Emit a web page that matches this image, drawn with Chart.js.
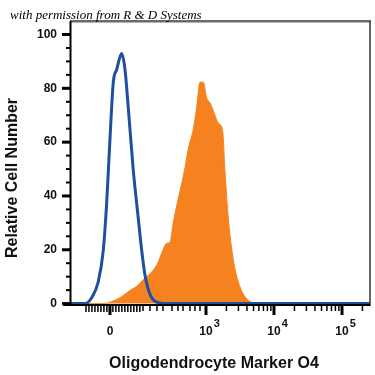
<!DOCTYPE html>
<html>
<head>
<meta charset="utf-8">
<script src="https://cdn.jsdelivr.net/npm/chart.js@4.4.1/dist/chart.umd.min.js"></script>
<style>
  html, body { margin: 0; padding: 0; background: #fff; }
</style>
</head>
<body>
<canvas id="histChart" width="375" height="375"></canvas>
<script>
// x values are positions on the display (logicle) axis: 10^3 -> 3, 10^4 -> 4 ...
var controlX = [1.015, 1.221, 1.319, 1.416, 1.490, 1.540, 1.588, 1.637, 1.687, 1.760, 1.809, 1.857, 1.931, 2.004, 2.054, 2.103, 2.176, 2.275, 2.422, 5.412];
var controlY = [0, 0, 2.2, 8.1, 19.9, 37.6, 61.1, 82.3, 87.0, 92.9, 87.0, 72.9, 49.5, 31.8, 19.9, 10.6, 3.5, 0.5, 0, 0];

var stainedX = [1.015, 1.485, 1.735, 1.907, 1.981, 2.074, 2.201, 2.294, 2.368, 2.422, 2.471, 2.515, 2.569, 2.643, 2.691, 2.740, 2.813, 2.863, 2.912, 2.960, 3.010, 3.059, 3.107, 3.181, 3.246, 3.279, 3.328, 3.401, 3.475, 3.549, 3.672, 3.794, 5.412];
var stainedY = [0, 0, 2.2, 5.3, 6.4, 8.8, 11.7, 15.2, 20.0, 22.4, 22.8, 29.5, 36.4, 44.6, 50.5, 57.6, 64.7, 72.9, 82.3, 82.3, 76.4, 74.6, 71.7, 67.1, 64.0, 49.5, 31.8, 16.4, 8.1, 3.5, 0.5, 0, 0];

var xTickPos = [1.588, 3, 4, 5];
var xTickBase = ['0', '10', '10', '10'];
var xTickExp = ['', '3', '4', '5'];
var yTickLabels = [0, 20, 40, 60, 80, 100];

var blue = '#1f4f9d';
var orange = '#f5821f';

function pairs(xs, ys) {
    return xs.map(function (x, i) { return { x: x, y: ys[i] }; });
}

// minor tick positions for the x axis
var xMinor = [];
for (var v = 1.235; v < 2.03; v += 0.044) xMinor.push(v);
[2.074, 2.176, 2.279, 2.368, 2.500, 2.588, 2.662, 2.765, 2.838, 2.912].forEach(function (p) { xMinor.push(p); });
[3, 4, 5].forEach(function (k) {
    for (var m = 2; m <= 9; m++) {
        var p = k + Math.log10(m);
        if (p < 5.41) xMinor.push(p);
    }
});

var decorations = {
    id: 'decorations',
    afterDraw: function (chart) {
        var ctx = chart.ctx;
        var area = chart.chartArea;
        var sx = chart.scales.x, sy = chart.scales.y;
        ctx.save();

        // frame
        ctx.strokeStyle = '#6b6b6b';
        ctx.lineWidth = 2.5;
        ctx.beginPath();
        ctx.moveTo(area.left - 1, area.top);
        ctx.lineTo(area.right + 1, area.top);
        ctx.stroke();
        ctx.strokeStyle = '#333';
        ctx.lineWidth = 1.5;
        ctx.beginPath();
        ctx.moveTo(area.right, area.top);
        ctx.lineTo(area.right, area.bottom);
        ctx.stroke();

        // axis lines
        ctx.strokeStyle = '#000';
        ctx.lineWidth = 2;
        ctx.beginPath();
        ctx.moveTo(area.left - 0.5, area.top);
        ctx.lineTo(area.left - 0.5, area.bottom);
        ctx.moveTo(area.left - 8, area.bottom - 1);
        ctx.lineTo(area.right, area.bottom - 1);
        ctx.stroke();

        // y ticks
        for (var t = 0; t <= 100; t += 5) {
            var py = sy.getPixelForValue(t);
            var major = t % 20 === 0;
            ctx.lineWidth = major ? 3 : 2;
            ctx.beginPath();
            ctx.moveTo(area.left - (major ? 9 : 5), py);
            ctx.lineTo(area.left, py);
            ctx.stroke();
        }

        // x ticks
        ctx.lineWidth = 1.5;
        xMinor.forEach(function (p) {
            var px = sx.getPixelForValue(p);
            ctx.beginPath();
            ctx.moveTo(px, area.bottom);
            ctx.lineTo(px, area.bottom + (p < 2.05 ? 6 : 5));
            ctx.stroke();
        });
        ctx.lineWidth = 3;
        xTickPos.forEach(function (p) {
            var px = sx.getPixelForValue(p);
            ctx.beginPath();
            ctx.moveTo(px, area.bottom);
            ctx.lineTo(px, area.bottom + 9);
            ctx.stroke();
        });

        // x tick labels with superscripts
        ctx.fillStyle = '#111';
        ctx.textBaseline = 'middle';
        xTickPos.forEach(function (p, i) {
            var px = sx.getPixelForValue(p);
            ctx.font = 'bold 12px "Liberation Sans", Arial, sans-serif';
            ctx.textAlign = 'center';
            ctx.fillText(xTickBase[i], px, 332);
            if (xTickExp[i]) {
                var w = ctx.measureText(xTickBase[i]).width;
                ctx.font = 'bold 11px "Liberation Sans", Arial, sans-serif';
                ctx.textAlign = 'left';
                ctx.fillText(xTickExp[i], px + w / 2 + 1, 324);
            }
        });

        // axis titles
        ctx.font = 'bold 16px "Liberation Sans", Arial, sans-serif';
        ctx.textAlign = 'center';
        ctx.fillText('Oligodendrocyte Marker O4', 214, 364);
        ctx.save();
        ctx.translate(13, 178);
        ctx.rotate(-Math.PI / 2);
        ctx.fillText('Relative Cell Number', 0, 0);
        ctx.restore();

        // watermark
        ctx.font = 'italic 13px "Liberation Serif", serif';
        ctx.textAlign = 'left';
        ctx.textBaseline = 'alphabetic';
        ctx.fillStyle = '#000';
        ctx.fillText('with permission from R & D Systems', 10, 19);

        ctx.restore();
    }
};

var ctx = document.getElementById('histChart').getContext('2d');
var histChart = new Chart(ctx, {
    type: 'line',
    data: {
        datasets: [{
            label: 'Oligodendrocyte Marker O4',
            data: pairs(stainedX, stainedY),
            borderColor: orange,
            borderWidth: 1,
            backgroundColor: orange,
            fill: 'origin',
            pointRadius: 0,
            cubicInterpolationMode: 'monotone',
            order: 2
        }, {
            label: 'Isotype control',
            data: pairs(controlX, controlY),
            borderColor: blue,
            borderWidth: 3,
            fill: false,
            pointRadius: 0,
            cubicInterpolationMode: 'monotone',
            order: 1
        }]
    },
    options: {
        responsive: false,
        animation: false,
        devicePixelRatio: 1,
        layout: { padding: { top: 6, right: 5, left: 0, bottom: 0 } },
        plugins: { legend: { display: false }, tooltip: { enabled: false } },
        scales: {
            x: {
                type: 'linear',
                min: 1.015,
                max: 5.412,
                grid: { display: false, drawTicks: false },
                border: { display: false },
                ticks: { display: false },
                afterFit: function (s) { s.height = 69; }
            },
            y: {
                min: -0.9,
                max: 104.95,
                grid: { display: false, drawTicks: false },
                border: { display: false },
                afterBuildTicks: function (s) {
                    s.ticks = yTickLabels.map(function (v) { return { value: v }; });
                },
                ticks: {
                    padding: 14,
                    color: '#111',
                    font: { family: '"Liberation Sans", Arial, sans-serif', size: 12, weight: 'bold' }
                },
                afterFit: function (s) { s.width = 71; }
            }
        }
    },
    plugins: [decorations]
});
</script>
</body>
</html>
